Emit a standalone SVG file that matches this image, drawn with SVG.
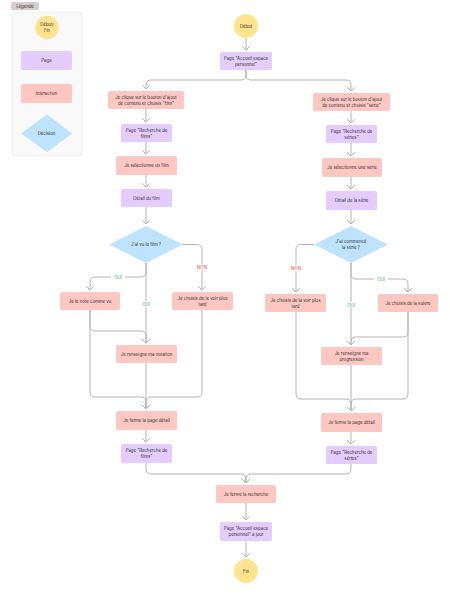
<svg xmlns="http://www.w3.org/2000/svg" width="450" height="595" viewBox="0 0 450 595">
<defs>
<marker id="arr" markerUnits="userSpaceOnUse" markerWidth="9" markerHeight="9" viewBox="-4.5 -4.5 9 9" refX="0" refY="0" orient="auto">
<path d="M-3.4,-3.4 L0,0 L-3.4,3.4" fill="none" stroke="#b3b3b3" stroke-width="1" stroke-linecap="round" stroke-linejoin="round"/>
</marker>
</defs>
<style>
text{font-family:Inter,"Liberation Sans",sans-serif;font-size:4.3px;fill:#2c2c2c;text-anchor:middle;dominant-baseline:central}
.page{fill:#E4CCFF}
.act{fill:#FFC7C2}
.dec{fill:#BDE3FF}
.se{fill:#FFE38F}
.c{fill:none;stroke:#b3b3b3;stroke-width:1;marker-end:url(#arr)}
.oui{fill:#14AE5C;font-size:4.3px}
.non{fill:#F24822;font-size:4.3px}
.lb{fill:#ffffff}
</style>
<rect width="450" height="595" fill="#ffffff"/>

<g id="legende">
<rect x="11" y="2" width="28" height="8" rx="2" fill="#d9cccc"/>
<text x="25" y="6">Légende</text>
<rect x="12" y="12" width="70" height="144" rx="3" fill="#f9f9f9" stroke="#e6e6e6" stroke-width="0.6"/>
<circle cx="47" cy="27.5" r="11.7" class="se"/>
<text x="47" y="24.5">Début/</text>
<text x="47" y="30.5">Fin</text>
<rect x="21" y="51" width="51" height="19" rx="1.5" class="page"/>
<text x="46.5" y="60.5">Page</text>
<rect x="21" y="84" width="51" height="19" rx="1.5" class="act"/>
<text x="46.5" y="93.5">Interaction</text>
<polygon points="47,114.5 72,133.5 47,152 21,133.5" class="dec"/>
<text x="46.5" y="133.5">Décision</text>
</g>

<g id="connecteurs">
<path class="c" d="M246 38 V50"/>
<path class="c" d="M246 70 V75 Q246 80 241 80 H151 Q146 80 146 85 V89"/>
<path class="c" d="M246 70 V75 Q246 80 251 80 H346 Q351 80 351 85 V91"/>
<path class="c" d="M146 109 V122"/>
<path class="c" d="M146 142 V154"/>
<path class="c" d="M146 175 V187"/>
<path class="c" d="M146 207 V224"/>
<path class="c" d="M183 244.5 H197 Q202 244.5 202 249.5 V290"/>
<path class="c" d="M146 263 V272 Q146 277 141 277 H95 Q90 277 90 282 V290"/>
<path class="c" d="M146 263 V343"/>
<path class="c" d="M90 310 V326 Q90 331 95 331 H141 Q146 331 146 336 V343"/>
<path class="c" d="M90 310 V392 Q90 397 95 397 H141 Q146 397 146 402 V409"/>
<path class="c" d="M146 363 V409"/>
<path class="c" d="M202 310 V392 Q202 397 197 397 H151 Q146 397 146 402 V409"/>
<path class="c" d="M146 430 V442"/>
<path class="c" d="M146 463 V469 Q146 474 151 474 H241 Q246 474 246 479 V483"/>
<path class="c" d="M351 111 V123"/>
<path class="c" d="M351 143 V156"/>
<path class="c" d="M351 177 V189"/>
<path class="c" d="M351 210 V224"/>
<path class="c" d="M314 244.5 H301 Q296 244.5 296 249.5 V292"/>
<path class="c" d="M351 263 V274 Q351 279 356 279 H403 Q408 279 408 284 V292"/>
<path class="c" d="M351 263 V345"/>
<path class="c" d="M408 312 V332 Q408 337 403 337 H356 Q351 337 351 342 V345"/>
<path class="c" d="M408 312 V394 Q408 399 403 399 H356 Q351 399 351 404 V411"/>
<path class="c" d="M296 312 V394 Q296 399 301 399 H346 Q351 399 351 404 V411"/>
<path class="c" d="M351 365 V411"/>
<path class="c" d="M351 432 V444"/>
<path class="c" d="M351 464 V469 Q351 474 346 474 H251 Q246 474 246 479 V483"/>
<path class="c" d="M246 503 V520"/>
<path class="c" d="M246 541 V557"/>
<rect class="lb" x="194" y="264" width="16" height="6"/>
<text class="non" x="202" y="267">NON</text>
<rect class="lb" x="111" y="274" width="14" height="6"/>
<text class="oui" x="118" y="277">OUI</text>
<rect class="lb" x="139" y="301" width="14" height="6"/>
<text class="oui" x="146" y="304">OUI</text>
<rect class="lb" x="288" y="265" width="16" height="6"/>
<text class="non" x="296" y="268">NON</text>
<rect class="lb" x="374" y="276" width="14" height="6"/>
<text class="oui" x="381" y="279">OUI</text>
<rect class="lb" x="344" y="302" width="14" height="6"/>
<text class="oui" x="351" y="305">OUI</text>
</g>

<g id="debut">
<circle cx="246" cy="26" r="12" class="se"/>
<text x="246" y="26">Début</text>
</g>
<g id="accueil">
<rect x="220" y="52" width="52" height="18" rx="1.5" class="page"/>
<text x="246" y="58">Page "Accueil espace</text>
<text x="246" y="64">personnel"</text>
</g>

<g id="clic-film">
<rect x="108" y="91" width="76" height="18" rx="1.5" class="act"/>
<text x="146" y="97">Je clique sur le bouton d'ajout</text>
<text x="146" y="103">de contenu et choisis "film"</text>
</g>
<g id="recherche-films">
<rect x="121" y="124" width="51" height="18" rx="1.5" class="page"/>
<text x="146.5" y="130">Page "Recherche de</text>
<text x="146.5" y="136">films"</text>
</g>
<g id="selection-film">
<rect x="116" y="156" width="61" height="19" rx="1.5" class="act"/>
<text x="146.5" y="165.5">Je sélectionne un film</text>
</g>
<g id="detail-film">
<rect x="121" y="189" width="51" height="18" rx="1.5" class="page"/>
<text x="146.5" y="198">Détail du film</text>
</g>
<g id="vu-film">
<polygon points="146,226 183,244.5 146,263 109,244.5" class="dec"/>
<text x="146" y="244.5">J'ai vu le film ?</text>
</g>
<g id="note-vu">
<rect x="60" y="292" width="60" height="18" rx="1.5" class="act"/>
<text x="90" y="301">Je le note comme vu</text>
</g>
<g id="plus-tard-film">
<rect x="172" y="292" width="61" height="18" rx="1.5" class="act"/>
<text x="202.5" y="298">Je choisis de le voir plus</text>
<text x="202.5" y="304">tard</text>
</g>
<g id="notation">
<rect x="116" y="345" width="61" height="18" rx="1.5" class="act"/>
<text x="146.5" y="354">Je renseigne ma notation</text>
</g>
<g id="ferme-film">
<rect x="116" y="411" width="61" height="19" rx="1.5" class="act"/>
<text x="146.5" y="420.5">Je ferme la page détail</text>
</g>
<g id="recherche-films-2">
<rect x="121" y="444" width="51" height="19" rx="1.5" class="page"/>
<text x="146.5" y="450.5">Page "Recherche de</text>
<text x="146.5" y="456.5">films"</text>
</g>

<g id="clic-serie">
<rect x="313" y="93" width="77" height="18" rx="1.5" class="act"/>
<text x="351.5" y="99">Je clique sur le bouton d'ajout</text>
<text x="351.5" y="105">de contenu et choisis "série"</text>
</g>
<g id="recherche-series">
<rect x="326" y="125" width="51" height="18" rx="1.5" class="page"/>
<text x="351.5" y="131">Page "Recherche de</text>
<text x="351.5" y="137">séries"</text>
</g>
<g id="selection-serie">
<rect x="322" y="158" width="60" height="19" rx="1.5" class="act"/>
<text x="352" y="167.5">Je sélectionne une série</text>
</g>
<g id="detail-serie">
<rect x="326" y="191" width="51" height="19" rx="1.5" class="page"/>
<text x="351.5" y="200.5">Détail de la série</text>
</g>
<g id="commence-serie">
<polygon points="351,226 388,244.5 351,263 314,244.5" class="dec"/>
<text x="351" y="241.5">J'ai commencé</text>
<text x="351" y="247.5">la série ?</text>
</g>
<g id="plus-tard-serie">
<rect x="265" y="294" width="61" height="18" rx="1.5" class="act"/>
<text x="295.5" y="300">Je choisis de la voir plus</text>
<text x="295.5" y="306">tard</text>
</g>
<g id="suivre">
<rect x="378" y="294" width="60" height="18" rx="1.5" class="act"/>
<text x="408" y="303">Je choisis de la suivre</text>
</g>
<g id="progression">
<rect x="321" y="347" width="61" height="18" rx="1.5" class="act"/>
<text x="351.5" y="353">Je renseigne ma</text>
<text x="351.5" y="359">progression</text>
</g>
<g id="ferme-serie">
<rect x="321" y="413" width="61" height="19" rx="1.5" class="act"/>
<text x="351.5" y="422.5">Je ferme la page détail</text>
</g>
<g id="recherche-series-2">
<rect x="326" y="446" width="51" height="18" rx="1.5" class="page"/>
<text x="351.5" y="452">Page "Recherche de</text>
<text x="351.5" y="458">séries"</text>
</g>

<g id="ferme-recherche">
<rect x="216" y="485" width="60" height="18" rx="1.5" class="act"/>
<text x="246" y="494">Je ferme la recherche</text>
</g>
<g id="accueil-a-jour">
<rect x="220" y="522" width="52" height="19" rx="1.5" class="page"/>
<text x="246" y="528.5">Page "Accueil espace</text>
<text x="246" y="534.5">personnel" à jour</text>
</g>
<g id="fin">
<circle cx="246" cy="571" r="12" class="se"/>
<text x="246" y="571">Fin</text>
</g>
</svg>
